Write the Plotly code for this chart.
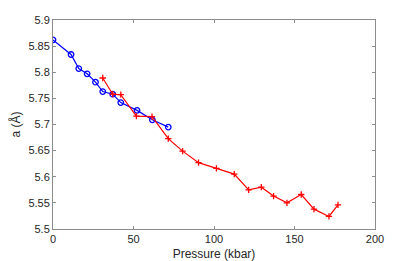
import plotly.graph_objects as go

blue_p = [0, 11.2, 16.0, 21.2, 26.4, 30.9, 37.1, 42.1, 52.2, 61.7, 71.6]
blue_a = [5.862, 5.834, 5.807, 5.797, 5.781, 5.763, 5.758, 5.742, 5.727, 5.709, 5.695]

red_p = [30.9, 37.1, 42.1, 51.8, 61.5, 71.6, 80.5, 90.4, 101.5, 112.6, 121.5, 129.4,
         137.0, 145.3, 154.2, 162.1, 171.4, 177.0]
red_a = [5.789, 5.758, 5.757, 5.716, 5.715, 5.673, 5.649, 5.627, 5.616, 5.605, 5.575,
         5.580, 5.563, 5.550, 5.566, 5.538, 5.524, 5.546]

x_ticks = [0, 50, 100, 150, 200]
y_ticks = [5.5, 5.55, 5.6, 5.65, 5.7, 5.75, 5.8, 5.85, 5.9]
y_tick_text = ["5.5", "5.55", "5.6", "5.65", "5.7", "5.75", "5.8", "5.85", "5.9"]

fig = go.Figure()
fig.add_trace(go.Scatter(
    x=blue_p, y=blue_a, mode="lines+markers",
    line=dict(color="#0000ff", width=1.2),
    marker=dict(symbol="circle-open", size=5.5, color="#0000ff", line=dict(width=1.3)),
    showlegend=False,
))
fig.add_trace(go.Scatter(
    x=red_p, y=red_a, mode="lines+markers",
    line=dict(color="#ff0000", width=1.2),
    marker=dict(symbol="cross-thin-open", size=4.5, color="#ff0000", line=dict(width=1.3, color="#ff0000")),
    showlegend=False,
))

axis_common = dict(
    showgrid=False, zeroline=False, showline=True, mirror="ticks", automargin=False,
    linecolor="#8c8c8c", linewidth=1, ticks="inside", ticklen=3, tickcolor="#8c8c8c",
    tickfont=dict(family="Liberation Sans, Arial, sans-serif", size=11, color="#262626"),
)

title_font = dict(family="Liberation Sans, Arial, sans-serif", size=12, color="#262626")

fig.update_layout(
    width=415, height=261,
    margin=dict(l=45, r=48, t=11.5, b=40),
    paper_bgcolor="white", plot_bgcolor="white",
    xaxis=dict(range=[0, 200], tickvals=x_ticks,
               title=dict(text="Pressure (kbar)", standoff=5, font=title_font),
               **axis_common),
    yaxis=dict(range=[5.5, 5.9], tickvals=y_ticks, ticktext=y_tick_text,
               title=dict(text="a (Å)", standoff=7, font=title_font),
               **axis_common),
)

fig.write_html("out.html")
